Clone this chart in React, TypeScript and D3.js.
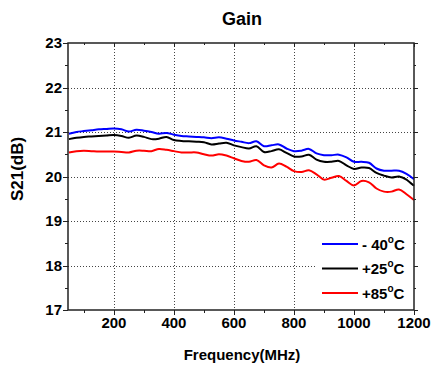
import React, { useEffect, useRef } from 'react'
import * as d3 from 'd3'

const freqs = [50, 75, 100, 125, 150, 175, 200, 225, 250, 275, 300, 325, 350, 375, 400, 425, 450, 475, 500, 525, 550, 575, 600, 625, 650, 675, 700, 725, 750, 775, 800, 825, 850, 875, 900, 925, 950, 975, 1000, 1025, 1050, 1075, 1100, 1125, 1150, 1175, 1200]
const gainMinus40 = [20.96, 21.0, 21.02, 21.04, 21.06, 21.07, 21.08, 21.06, 21.01, 21.05, 21.03, 21.0, 20.96, 20.98, 20.94, 20.91, 20.9, 20.89, 20.88, 20.86, 20.88, 20.85, 20.81, 20.78, 20.75, 20.79, 20.68, 20.7, 20.72, 20.63, 20.57, 20.58, 20.62, 20.52, 20.48, 20.48, 20.49, 20.43, 20.33, 20.33, 20.31, 20.18, 20.13, 20.13, 20.13, 20.06, 19.94]
const gain25 = [20.84, 20.87, 20.89, 20.9, 20.91, 20.92, 20.93, 20.91, 20.87, 20.92, 20.89, 20.84, 20.85, 20.89, 20.82, 20.8, 20.79, 20.78, 20.77, 20.72, 20.74, 20.76, 20.7, 20.66, 20.63, 20.68, 20.55, 20.57, 20.61, 20.53, 20.45, 20.45, 20.49, 20.38, 20.33, 20.33, 20.35, 20.25, 20.17, 20.2, 20.19, 20.08, 20.02, 19.98, 20.0, 19.93, 19.79]
const gain85 = [20.54, 20.57, 20.58, 20.57, 20.56, 20.56, 20.56, 20.55, 20.54, 20.58, 20.58, 20.57, 20.62, 20.6, 20.57, 20.54, 20.54, 20.54, 20.5, 20.47, 20.5, 20.47, 20.41, 20.35, 20.33, 20.37, 20.25, 20.2, 20.29, 20.22, 20.12, 20.1, 20.14, 20.05, 19.93, 19.97, 20.01, 19.9, 19.8, 19.9, 19.87, 19.73, 19.66, 19.66, 19.71, 19.6, 19.47]
const seriesNames = ['- 40', '+25', '+85']
const seriesColors = ['#0000ff', '#000000', '#ff0000']
const xTicks = [200, 400, 600, 800, 1000, 1200]
const yTicks = [17, 18, 19, 20, 21, 22, 23]

const App = () => {
  const ref = useRef<SVGSVGElement>(null)

  useEffect(() => {
    const svg = d3.select(ref.current)
    svg.selectAll('*').remove()
    const font = '"Liberation Sans", Arial, sans-serif'
    const left = 68, right = 414, top = 43, bottom = 310

    const x = d3.scaleLinear().domain([47, 1200]).range([left, right])
    const y = d3.scaleLinear().domain([17, 23]).range([bottom, top])

    // grid
    const grid = svg.append('g').attr('stroke', '#444').attr('stroke-width', 1).attr('stroke-dasharray', '1,2')
    grid.selectAll('.gx').data(xTicks.filter(d => d < 1200)).enter().append('line')
      .attr('x1', d => Math.round(x(d)) + 0.5).attr('x2', d => Math.round(x(d)) + 0.5)
      .attr('y1', top).attr('y2', bottom)
    grid.selectAll('.gy').data(yTicks.filter(d => d > 17 && d < 23)).enter().append('line')
      .attr('x1', left).attr('x2', right)
      .attr('y1', d => Math.round(y(d)) + 0.5).attr('y2', d => Math.round(y(d)) + 0.5)

    // curves
    const series = [gainMinus40, gain25, gain85]
    const line = d3.line<number>().x((d, i) => x(freqs[i])).y(d => y(d)).curve(d3.curveCatmullRom)
    series.forEach((s, i) => {
      svg.append('path').datum(s).attr('d', line).attr('fill', 'none')
        .attr('stroke', seriesColors[i]).attr('stroke-width', 2)
    })

    // legend
    const lg = svg.append('g')
    lg.append('rect').attr('x', 316).attr('y', 231).attr('width', right - 316).attr('height', bottom - 231).attr('fill', '#fff')
    seriesNames.forEach((n, i) => {
      const ly = 244 + i * 24.5
      lg.append('line').attr('x1', 322).attr('x2', 358).attr('y1', ly).attr('y2', ly)
        .attr('stroke', seriesColors[i]).attr('stroke-width', 2)
      const t = lg.append('text').attr('x', 362).attr('y', ly + 5.5)
        .attr('font-family', font).attr('font-weight', 'bold').attr('font-size', 15)
      t.append('tspan').text(n)
      t.append('tspan').attr('dy', -7).attr('font-size', 10).text('o')
      t.append('tspan').attr('dy', 7).text('C')
    })

    // axes box
    const ax = svg.append('g').attr('stroke', '#222').attr('stroke-width', 1.5)
    ax.append('rect').attr('x', left).attr('y', top).attr('width', right - left).attr('height', bottom - top).attr('fill', 'none')

    const xMinor = d3.range(100, 1201, 100)
    const yMinor = d3.range(17, 23.01, 0.5)
    const tk = svg.append('g').attr('stroke', '#222').attr('stroke-width', 1)
    xMinor.forEach(d => {
      const len = d % 200 === 0 ? 5 : 3
      const px = Math.round(x(d)) + 0.5
      tk.append('line').attr('x1', px).attr('x2', px).attr('y1', bottom).attr('y2', bottom + len)
      tk.append('line').attr('x1', px).attr('x2', px).attr('y1', top).attr('y2', top + len - 1)
    })
    yMinor.forEach(d => {
      const len = d % 1 === 0 ? 5 : 3
      const py = Math.round(y(d)) + 0.5
      tk.append('line').attr('x1', left - len).attr('x2', left).attr('y1', py).attr('y2', py)
      tk.append('line').attr('x1', right).attr('x2', right + len - 1).attr('y1', py).attr('y2', py)
    })

    // tick labels
    svg.append('g').selectAll('text').data(xTicks).enter().append('text')
      .attr('x', d => x(d)).attr('y', 328).attr('text-anchor', 'middle')
      .attr('font-family', font).attr('font-weight', 'bold').attr('font-size', 15)
      .text(d => d)
    svg.append('g').selectAll('text').data(yTicks).enter().append('text')
      .attr('x', 62).attr('y', d => y(d) + 5).attr('text-anchor', 'end')
      .attr('font-family', font).attr('font-weight', 'bold').attr('font-size', 15)
      .text(d => d)

    // titles
    svg.append('text').attr('x', 242).attr('y', 25).attr('text-anchor', 'middle')
      .attr('font-family', font).attr('font-weight', 'bold').attr('font-size', 18).text('Gain')
    svg.append('text').attr('x', 242).attr('y', 360).attr('text-anchor', 'middle')
      .attr('font-family', font).attr('font-weight', 'bold').attr('font-size', 15).text('Frequency(MHz)')
    svg.append('text').attr('transform', 'translate(23,169) rotate(-90)').attr('text-anchor', 'middle')
      .attr('font-family', font).attr('font-weight', 'bold').attr('font-size', 17).text('S21(dB)')
  }, [])

  return (
    <svg ref={ref} width={432} height={369} style={{ position: 'absolute', left: 0, top: 0, background: '#fff' }} />
  )
}

export default App
